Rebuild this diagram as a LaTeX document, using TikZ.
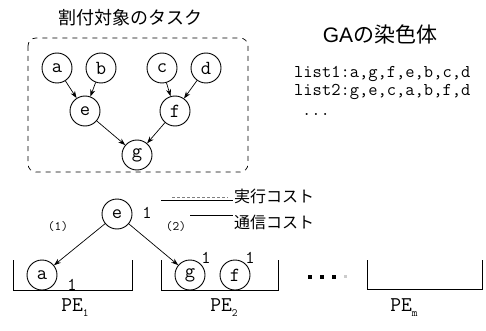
\documentclass[tikz,border=0pt]{standalone}
\usepackage{fontspec}
\newfontfamily\jp{Noto Sans CJK JP}
\usetikzlibrary{arrows.meta}
\tikzset{
  task/.style={circle,draw,line width=0.9pt,minimum size=30pt,inner sep=0pt,font=\ttfamily\fontsize{20}{20}\selectfont},
  arr/.style={line width=0.7pt,-{Stealth[length=7pt,width=5pt]}},
  lbl/.style={font=\ttfamily\fontsize{18}{18}\selectfont,inner sep=0pt},
  jlbl/.style={font=\jp\fontsize{16}{16}\selectfont,inner sep=0pt,anchor=west},
  pebox/.style={line width=0.8pt},
  pelbl/.style={font=\ttfamily\fontsize{21}{21}\selectfont,inner sep=0pt}
}
\newcommand{\pesub}[1]{\raisebox{-5pt}{\fontsize{11}{11}\selectfont #1}}
\begin{document}
\begin{tikzpicture}[x=1pt,y=-1pt]
\useasboundingbox (0,0) rectangle (486,331);
% title
\node[font=\jp\fontsize{18}{18}\selectfont,inner sep=0pt] (title) at (130,18) {割付対象のタスク};
\draw[dashed,dash pattern=on 5pt off 5pt,line width=0.7pt,rounded corners=8pt] (28,38) rectangle (248,172);
% task graph
\node[task] (a) at (57,68) {a};
\node[task] (b) at (101,68) {b};
\node[task] (c) at (162,68) {c};
\node[task] (d) at (206,68) {d};
\node[task] (e) at (85,111) {e};
\node[task] (f) at (175,111) {f};
\node[task] (g) at (137,155) {g};
\draw[arr] (a) -- (e);
\draw[arr] (b) -- (e);
\draw[arr] (c) -- (f);
\draw[arr] (d) -- (f);
\draw[arr] (e) -- (g);
\draw[arr] (f) -- (g);
% GA chromosome
\node[font=\fontsize{21}{21}\selectfont,inner sep=0pt] (ga) at (380,34) {\fontspec{Liberation Sans}GA\jp の染色体};
\node[lbl,anchor=west] (l1) at (294,74) {list1:a,g,f,e,b,c,d};
\node[lbl,anchor=west] (l2) at (294,92) {list2:g,e,c,a,b,f,d};
\node[lbl,anchor=base west] (l3) at (302,116) {...};
% legend
\coordinate (lg1a) at (161,200);
\coordinate (lg1b) at (233,200);
\coordinate (lg2a) at (190,215);
\coordinate (lg2b) at (233,215);
\draw[line width=0.8pt] (lg1a) -- (lg1b);
\draw[gray,line width=0.5pt,dash pattern=on 3pt off 2pt] (172,197) -- (228,197);
\draw[line width=0.8pt] (lg2a) -- (lg2b);
\node[jlbl] (j1) at (234,196) {実行コスト};
\node[jlbl] (j2) at (234,222) {通信コスト};
% bottom example
\node[task] (e2) at (117,214) {e};
\node[lbl] (c1) at (147,213) {1};
\node[lbl,font=\ttfamily\fontsize{13}{13}\selectfont] (p1) at (58,227) {(1)};
\node[lbl,font=\ttfamily\fontsize{13}{13}\selectfont] (p2) at (176,227) {(2)};
% PE boxes
\draw[pebox] (13,260) -- (13,290) -- (132,290) -- (132,260);
\draw[pebox] (161,260) -- (161,290) -- (278,290) -- (278,260);
\draw[pebox] (367,260) -- (367,289) -- (482,289) -- (482,260);
\node[task] (a2) at (42,275) {a};
\node[task] (g2) at (190,275) {g};
\node[task] (f2) at (235,275) {f};
\node[lbl] (c2) at (72,285) {1};
\node[lbl] (c3) at (206,258) {1};
\node[lbl] (c4) at (250,258) {1};
\draw[arr] (e2) -- (a2);
\draw[arr] (e2) -- (g2);
% dots
\foreach \xx in {310,322,334} \fill (\xx-2,275) rectangle (\xx+2,279);
\fill[gray!40] (344,275) rectangle (347,278);
% PE labels
\node[pelbl] (pe1) at (75,308) {PE\pesub{1}};
\node[pelbl] (pe2) at (224,308) {PE\pesub{2}};
\node[pelbl] (pem) at (404,308) {PE\pesub{m}};
\end{tikzpicture}
\end{document}
